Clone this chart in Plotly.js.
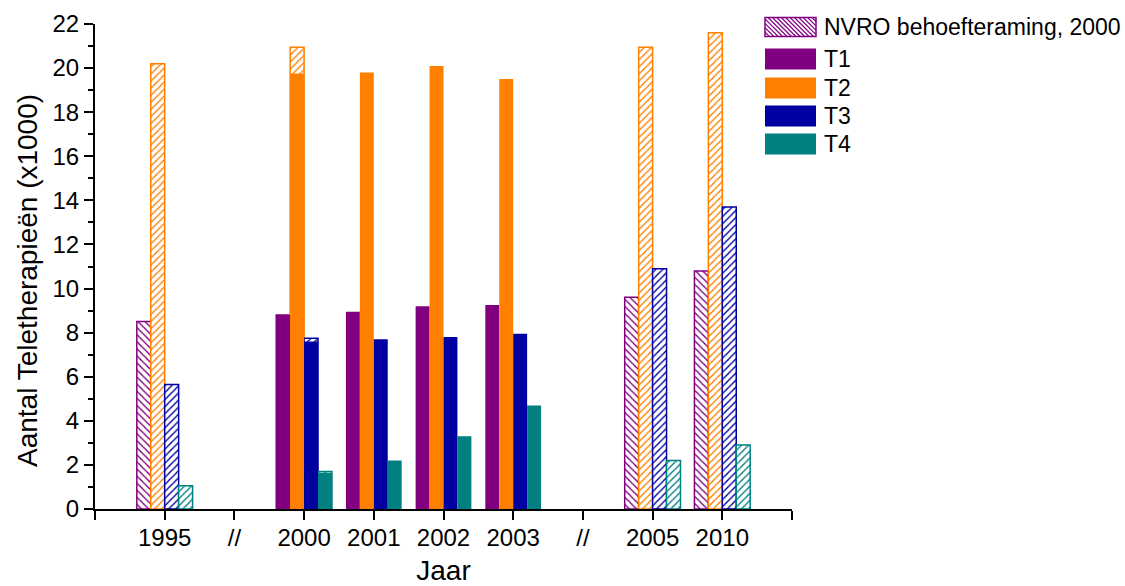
<!DOCTYPE html>
<html>
<head>
<meta charset="utf-8">
<script src="https://cdn.plot.ly/plotly-3.0.1.min.js"></script>
<style>
  html, body { margin: 0; padding: 0; background: #fff; }
  #chart { width: 1125px; height: 586px; }
</style>
</head>
<body>
<div id="chart"></div>
<script>
// Category axis: one slot per label, blank slots at both ends
const tickLabels = ['', '1995', '//', '2000', '2001', '2002', '2003', '//', '2005', '2010', ''];

// NVRO behoefteraming (2000), number of teletherapies x1000
const projYears = ['1995', '2000', '2005', '2010'];
const projT1 = [8.5, 8.8, 9.6, 10.8];
const projT2 = [20.2, 20.95, 20.95, 21.6];
const projT3 = [5.65, 7.75, 10.9, 13.7];
const projT4 = [1.05, 1.7, 2.2, 2.9];

// Realised numbers, x1000
const actYears = ['2000', '2001', '2002', '2003'];
const actT1 = [8.8, 8.95, 9.2, 9.25];
const actT2 = [19.75, 19.8, 20.1, 19.5];
const actT3 = [7.6, 7.7, 7.8, 7.95];
const actT4 = [1.65, 2.2, 3.3, 4.7];

const seriesNames = ['T1', 'T2', 'T3', 'T4'];
const projName = 'NVRO behoefteraming, 2000';
const xTitle = 'Jaar';
const yTitle = 'Aantal Teletherapieën (x1000)';

const colors = ['#800080', '#FF8000', '#0000A0', '#008080'];
const hatches = ['\\', '/', '/', '/'];
const FONT = 'Liberation Sans, Arial, Helvetica, sans-serif';

const pos = y => tickLabels.indexOf(y);

const projSeries = [projT1, projT2, projT3, projT4];
const actSeries = [actT1, actT2, actT3, actT4];

const traces = [];
projSeries.forEach((vals, i) => {
  traces.push({
    type: 'bar',
    name: i === 0 ? projName : projName + ' ' + seriesNames[i],
    x: projYears.map(pos),
    y: vals,
    offsetgroup: seriesNames[i],
    showlegend: false,
    hoverinfo: 'y',
    marker: {
      color: colors[i],
      line: { color: colors[i], width: 1.5 },
      pattern: { shape: hatches[i], fgcolor: colors[i], bgcolor: '#ffffff',
                 fillmode: 'replace', size: 5, solidity: 0.28 }
    }
  });
});
actSeries.forEach((vals, i) => {
  traces.push({
    type: 'bar',
    name: seriesNames[i],
    x: actYears.map(pos),
    y: vals,
    offsetgroup: seriesNames[i],
    showlegend: false,
    hoverinfo: 'y',
    marker: { color: colors[i], line: { width: 0 } }
  });
});

// Plot area in pixels
const W = 1125, H = 586;
const M = { l: 95, r: 333, t: 24, b: 77 };
const pw = W - M.l - M.r, ph = H - M.t - M.b;
const px = x => (x - M.l) / pw;
const py = y => (H - M.b - y) / ph;

// Hand-built legend: large swatches with text to the right
const shapes = [];
const annotations = [];
const legendRows = [
  { label: projName, color: colors[0], hatched: true, cy: 27 },
  { label: seriesNames[0], color: colors[0], cy: 59 },
  { label: seriesNames[1], color: colors[1], cy: 88 },
  { label: seriesNames[2], color: colors[2], cy: 116 },
  { label: seriesNames[3], color: colors[3], cy: 144 }
];
const sx0 = 765, sx1 = 816;
legendRows.forEach(row => {
  const hh = row.hatched ? 9.5 : 10.5;
  const y0 = row.cy - hh, y1 = row.cy + hh;
  if (row.hatched) {
    shapes.push({ type: 'rect', xref: 'paper', yref: 'paper',
      x0: px(sx0), x1: px(sx1), y0: py(y1), y1: py(y0),
      fillcolor: '#ffffff', line: { color: row.color, width: 1.5 } });
    const h = y1 - y0;
    for (let s = sx0 - h; s < sx1; s += 4.4) {
      const t0 = Math.max(0, sx0 - s), t1 = Math.min(h, sx1 - s);
      if (t1 <= t0) continue;
      shapes.push({ type: 'line', xref: 'paper', yref: 'paper',
        x0: px(s + t0), y0: py(y0 + t0), x1: px(s + t1), y1: py(y0 + t1),
        line: { color: row.color, width: 1.2 } });
    }
  } else {
    shapes.push({ type: 'rect', xref: 'paper', yref: 'paper',
      x0: px(sx0), x1: px(sx1), y0: py(y1), y1: py(y0),
      fillcolor: row.color, line: { width: 0 } });
  }
  annotations.push({ xref: 'paper', yref: 'paper', x: px(822), y: py(row.cy),
    xanchor: 'left', yanchor: 'middle', showarrow: false, text: row.label,
    font: { family: FONT, size: 23, color: '#000' } });
});

// Vertical axis title, placed beside the tick labels
annotations.push({ xref: 'paper', yref: 'paper', x: px(27), y: py(281),
  xanchor: 'center', yanchor: 'middle', textangle: -90, showarrow: false,
  text: yTitle, font: { family: FONT, size: 28, color: '#000' } });

const layout = {
  width: W, height: H,
  margin: M,
  paper_bgcolor: '#ffffff', plot_bgcolor: '#ffffff',
  barmode: 'group', bargap: 0.2, bargroupgap: 0,
  showlegend: false,
  font: { family: FONT, color: '#000' },
  xaxis: {
    range: [0, 10],
    tickmode: 'array',
    tickvals: tickLabels.map((_, i) => i),
    ticktext: tickLabels,
    ticks: 'outside', ticklen: 9, tickwidth: 2, tickcolor: '#000',
    ticklabelstandoff: -3,
    showline: true, linewidth: 2, linecolor: '#000',
    showgrid: false, zeroline: false,
    tickfont: { family: FONT, size: 24, color: '#000' },
    title: { text: xTitle, font: { family: FONT, size: 28, color: '#000' }, standoff: 14 }
  },
  yaxis: {
    range: [0, 22],
    tick0: 0, dtick: 2,
    ticks: 'outside', ticklen: 9, tickwidth: 2, tickcolor: '#000',
    minor: { dtick: 1, ticks: 'outside', ticklen: 5, tickwidth: 2, tickcolor: '#000', showgrid: false },
    showline: true, linewidth: 2, linecolor: '#000',
    showgrid: false, zeroline: false,
    tickfont: { family: FONT, size: 24, color: '#000' }
  },
  shapes: shapes,
  annotations: annotations
};

Plotly.newPlot('chart', traces, layout, { displayModeBar: false, staticPlot: true });
</script>
</body>
</html>
